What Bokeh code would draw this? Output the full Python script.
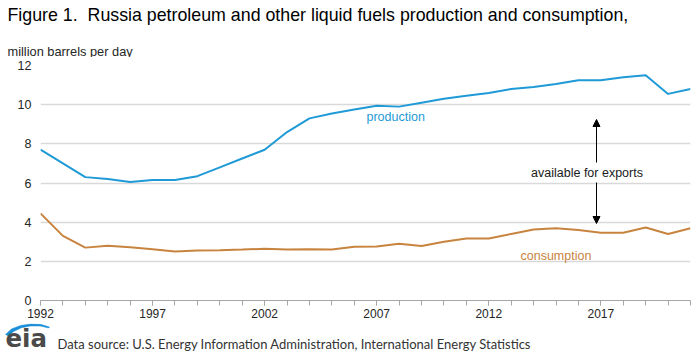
from bokeh.plotting import figure
from bokeh.layouts import column
from bokeh.models import Range1d, FixedTicker, Label, Arrow, NormalHead
from bokeh.embed import file_html
from bokeh.resources import INLINE

years = list(range(1992, 2022))
production = [7.7, 7.0, 6.3, 6.2, 6.05, 6.15, 6.15, 6.35, 6.8, 7.25, 7.7, 8.6, 9.3, 9.55, 9.75,
              9.95, 9.9, 10.1, 10.3, 10.45, 10.6, 10.8, 10.9, 11.05, 11.25, 11.25, 11.4, 11.5, 10.55, 10.8]
consumption = [4.45, 3.3, 2.7, 2.8, 2.72, 2.62, 2.5, 2.55, 2.57, 2.6, 2.64, 2.6, 2.62, 2.6, 2.75,
               2.76, 2.9, 2.78, 3.0, 3.17, 3.17, 3.4, 3.63, 3.69, 3.6, 3.46, 3.46, 3.73, 3.4, 3.69]
x_tick_labels = [1992, 1997, 2002, 2007, 2012, 2017]
y_ticks = [0, 2, 4, 6, 8, 10, 12]

title_text = "Figure 1.\u00a0 Russia petroleum and other liquid fuels production and consumption,"
unit_text = "million barrels per day"
source_text = "Data source: U.S. Energy Information Administration, International Energy Statistics"

BLUE = "#1f9ad6"
TAN = "#c8843e"
SANS = "'Liberation Sans', Arial, sans-serif"

W = 700
TOP_H, MAIN_H, FOOT_H = 57, 266, 29


def blank_fig(h):
    f = figure(width=W, height=h, output_backend="svg", toolbar_location=None,
               x_axis_location=None, y_axis_location=None, frame_align=False,
               x_range=Range1d(0, W), y_range=Range1d(h, 0),
               min_border_left=0, min_border_right=0, min_border_top=0, min_border_bottom=0)
    f.grid.visible = False
    f.outline_line_color = None
    f.background_fill_color = "white"
    f.border_fill_color = "white"
    return f


# ---- header
top = blank_fig(TOP_H)
top.add_layout(Label(x=7, y=14, text=title_text, text_font=SANS, text_font_size="17.8px",
                     text_color="#000000", text_baseline="alphabetic"))
top.add_layout(Label(x=7, y=50.5, text=unit_text, text_font=SANS, text_font_size="12.8px",
                     text_color="#262626", text_baseline="alphabetic"))

# ---- main chart
p = figure(width=W, height=MAIN_H, output_backend="svg", toolbar_location=None, frame_align=False,
           x_range=Range1d(1992, 2021), y_range=Range1d(0, 12),
           min_border_left=40, min_border_right=10, min_border_top=8, min_border_bottom=23)
p.outline_line_color = None
p.background_fill_color = "white"
p.border_fill_color = "white"

p.xgrid.grid_line_color = None
p.ygrid.grid_line_color = "#d9d9d9"
p.ygrid.grid_line_width = 1.5
p.ygrid.ticker = FixedTicker(ticks=y_ticks[1:])

p.xaxis.ticker = FixedTicker(ticks=x_tick_labels, minor_ticks=years)
p.xaxis.axis_line_color = "#a6a6a6"
p.xaxis.major_tick_line_color = "#a6a6a6"
p.xaxis.minor_tick_line_color = "#a6a6a6"
p.xaxis.major_tick_out = 5
p.xaxis.major_tick_in = 0
p.xaxis.minor_tick_out = 5
p.xaxis.minor_tick_in = 0
p.xaxis.major_label_standoff = 3
p.xaxis.major_label_text_font = SANS
p.xaxis.major_label_text_font_size = "12px"
p.xaxis.major_label_text_color = "#262626"

p.yaxis.ticker = FixedTicker(ticks=y_ticks)
p.yaxis.axis_line_color = None
p.yaxis.major_tick_line_color = None
p.yaxis.minor_tick_line_color = None
p.yaxis.major_tick_out = 0
p.yaxis.major_tick_in = 0
p.yaxis.minor_tick_out = 0
p.yaxis.minor_tick_in = 0
p.yaxis.major_label_standoff = 9
p.yaxis.major_label_text_font = SANS
p.yaxis.major_label_text_font_size = "12.5px"
p.yaxis.major_label_text_color = "#262626"

p.line(years, production, line_color=BLUE, line_width=2)
p.line(years, consumption, line_color=TAN, line_width=2)

# pixel -> data helpers for the main frame (frame: x 40..690, y 65..300 of the page)
def dx(px):
    return 1992 + (px - 40) * 29 / 650

def dy(py):
    return (300 - py) * 12 / 235

def add_label(text, px, py, color, align="left"):
    p.add_layout(Label(x=dx(px), y=dy(py), text=text, text_font=SANS, text_font_size="12.5px",
                       text_color=color, text_align=align, text_baseline="alphabetic"))

add_label("production", 366, 116, BLUE)
add_label("consumption", 520, 255, TAN)
add_label("available for exports", 586.5, 172, "#1a1a1a", align="center")

ax = dx(596)
p.add_layout(Arrow(end=NormalHead(size=7, fill_color="black", line_color="black"),
                   x_start=ax, y_start=dy(162), x_end=ax, y_end=dy(119),
                   line_color="black", line_width=1))
p.add_layout(Arrow(end=NormalHead(size=7, fill_color="black", line_color="black"),
                   x_start=ax, y_start=dy(182), x_end=ax, y_end=dy(223),
                   line_color="black", line_width=1))

# ---- footer (page y = 323 + local y)
foot = blank_fig(FOOT_H)
outer = [(5, 11), (11, 5.5), (20, 2), (30, 0.5), (40, 0.8), (49, 3.5)]
inner = [(48, 4.5), (40, 2.5), (30, 2.5), (21, 4.2), (13, 8), (8, 12.5)]
foot.patch([a for a, b in outer + inner], [b for a, b in outer + inner],
           fill_color="#1a8fd9", line_color="#1a8fd9", line_width=0.5)
foot.add_layout(Label(x=5, y=0.3, text="eia", text_font="'DejaVu Sans'", text_font_size="24.5px",
                      text_font_style="bold", text_color="#4a4a4a", text_baseline="top"))
foot.add_layout(Label(x=57, y=20.5, text=source_text, text_font="Lato", text_font_size="13px",
                      text_color="#333333", text_baseline="alphabetic"))

layout = column(top, p, foot, spacing=0)
open("out.html", "w").write(file_html(layout, INLINE))
